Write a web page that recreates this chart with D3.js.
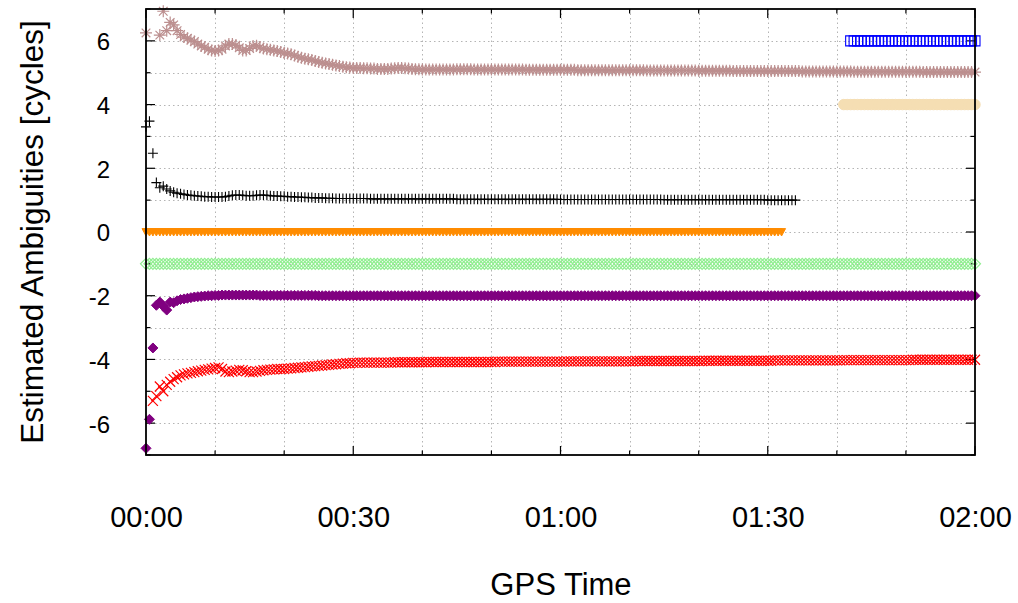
<!DOCTYPE html>
<html>
<head>
<meta charset="utf-8">
<script src="https://cdn.jsdelivr.net/npm/d3@7"></script>
<style>
  html, body { margin: 0; padding: 0; background: #fff; }
  text { font-family: "Liberation Sans", Arial, Helvetica, sans-serif; fill: #000; }
</style>
</head>
<body>
<svg id="chart" width="1018" height="603"></svg>
<script>
// Float ambiguity estimates, one epoch every 30 s (time in minutes).
const epochStep = 0.5;

const xTickMinutes = [0, 30, 60, 90, 120];
const xTickLabels = ["00:00", "00:30", "01:00", "01:30", "02:00"];
const yTickValues = [-6, -4, -2, 0, 2, 4, 6];

// Ambiguity 1 (starts 00:00)
const amb1Start = 0;
const amb1 = [
  6.25,null,null,null,6.18,6.93,6.32,6.58,6.5,6.32,6.2,6.12,6.08,6.02,5.98,5.9,5.84,5.8,5.74,5.7,
  5.68,5.7,5.74,5.84,5.9,5.9,5.86,5.78,5.7,5.7,5.76,5.84,5.85,5.8,5.76,5.74,5.72,5.7,5.68,5.65,
  5.62,5.6,5.58,5.54,5.5,5.47,5.44,5.42,5.4,5.37,5.34,5.31,5.29,5.27,5.25,5.23,5.21,5.19,5.17,5.16,
  5.15,5.15,5.15,5.14,5.14,5.13,5.13,5.12,5.12,5.12,5.12,5.13,5.14,5.15,5.15,5.14,5.13,5.12,5.11,5.11,
  5.1,5.1,5.1,5.1,5.1,5.1,5.1,5.1,5.1,5.1,5.11,5.11,5.11,5.11,5.11,5.1,5.1,5.1,5.1,5.1,
  5.1,5.1,5.1,5.1,5.1,5.1,5.1,5.1,5.1,5.1,5.09,5.09,5.09,5.09,5.09,5.09,5.09,5.09,5.09,5.09,
  5.09,5.09,5.09,5.09,5.09,5.08,5.08,5.08,5.08,5.08,5.08,5.08,5.08,5.08,5.08,5.08,5.08,5.08,5.08,5.08,
  5.08,5.08,5.08,5.08,5.08,5.07,5.07,5.07,5.07,5.07,5.07,5.07,5.07,5.07,5.07,5.07,5.07,5.07,5.07,5.07,
  5.06,5.06,5.06,5.06,5.06,5.06,5.06,5.06,5.06,5.06,5.05,5.05,5.05,5.05,5.05,5.05,5.05,5.05,5.05,5.05,
  5.05,5.05,5.05,5.05,5.05,5.05,5.05,5.05,5.05,5.05,5.04,5.04,5.04,5.04,5.04,5.04,5.04,5.04,5.04,5.04,
  5.04,5.04,5.04,5.04,5.04,5.03,5.03,5.03,5.03,5.03,5.03,5.03,5.03,5.03,5.03,5.03,5.03,5.03,5.03,5.03,
  5.03,5.03,5.03,5.03,5.03,5.02,5.02,5.02,5.02,5.02,5.02,5.02,5.02,5.02,5.02,5.02,5.02,5.02,5.02,5.02,
  5.02
];

// Ambiguity 2 (00:00 to 01:34)
const amb2Start = 0;
const amb2 = [
  3.3,3.48,2.47,1.55,1.39,1.44,1.35,1.29,1.25,1.22,1.2,1.18,1.16,1.15,1.14,1.13,1.12,1.11,1.11,1.1,
  1.1,1.1,1.1,1.11,1.13,1.15,1.16,1.16,1.15,1.14,1.14,1.14,1.15,1.16,1.16,1.15,1.14,1.13,1.13,1.12,
  1.12,1.11,1.11,1.1,1.1,1.09,1.09,1.08,1.08,1.07,1.07,1.07,1.06,1.06,1.06,1.05,1.05,1.05,1.05,1.05,
  1.05,1.05,1.05,1.05,1.05,1.04,1.04,1.04,1.04,1.04,1.04,1.04,1.04,1.04,1.04,1.04,1.04,1.04,1.04,1.04,
  1.04,1.04,1.04,1.04,1.04,1.04,1.04,1.04,1.04,1.04,1.03,1.03,1.03,1.03,1.03,1.03,1.03,1.03,1.03,1.03,
  1.03,1.03,1.03,1.03,1.03,1.03,1.03,1.03,1.03,1.03,1.03,1.03,1.03,1.03,1.03,1.03,1.03,1.03,1.03,1.03,
  1.02,1.02,1.02,1.02,1.02,1.02,1.02,1.02,1.02,1.02,1.02,1.02,1.02,1.02,1.02,1.02,1.02,1.02,1.02,1.02,
  1.02,1.02,1.02,1.02,1.02,1.02,1.02,1.02,1.02,1.02,1.01,1.01,1.01,1.01,1.01,1.01,1.01,1.01,1.01,1.01,
  1.01,1.01,1.01,1.01,1.01,1.01,1.01,1.01,1.01,1.01,1.01,1.01,1.01,1.01,1.01,1.01,1.01,1.01,1.01,1.01,
  1,1,1,1,1,1,1,1,1
];

// Ambiguity 3 (00:00 to 01:32)
const amb3Start = 0;
const amb3 = [
  0,0,0,0,0,0,0,0,0,0,0,0,0,0,0,0,0,0,0,0,
  0,0,0,0,0,0,0,0,0,0,0,0,0,0,0,0,0,0,0,0,
  0,0,0,0,0,0,0,0,0,0,0,0,0,0,0,0,0,0,0,0,
  0,0,0,0,0,0,0,0,0,0,0,0,0,0,0,0,0,0,0,0,
  0,0,0,0,0,0,0,0,0,0,0,0,0,0,0,0,0,0,0,0,
  0,0,0,0,0,0,0,0,0,0,0,0,0,0,0,0,0,0,0,0,
  0,0,0,0,0,0,0,0,0,0,0,0,0,0,0,0,0,0,0,0,
  0,0,0,0,0,0,0,0,0,0,0,0,0,0,0,0,0,0,0,0,
  0,0,0,0,0,0,0,0,0,0,0,0,0,0,0,0,0,0,0,0,
  0,0,0,0,0
];

// Ambiguity 4 (whole session)
const amb4Start = 0;
const amb4 = [
  -1,-1,-1,-1,-1,-1,-1,-1,-1,-1,-1,-1,-1,-1,-1,-1,-1,-1,-1,-1,
  -1,-1,-1,-1,-1,-1,-1,-1,-1,-1,-1,-1,-1,-1,-1,-1,-1,-1,-1,-1,
  -1,-1,-1,-1,-1,-1,-1,-1,-1,-1,-1,-1,-1,-1,-1,-1,-1,-1,-1,-1,
  -1,-1,-1,-1,-1,-1,-1,-1,-1,-1,-1,-1,-1,-1,-1,-1,-1,-1,-1,-1,
  -1,-1,-1,-1,-1,-1,-1,-1,-1,-1,-1,-1,-1,-1,-1,-1,-1,-1,-1,-1,
  -1,-1,-1,-1,-1,-1,-1,-1,-1,-1,-1,-1,-1,-1,-1,-1,-1,-1,-1,-1,
  -1,-1,-1,-1,-1,-1,-1,-1,-1,-1,-1,-1,-1,-1,-1,-1,-1,-1,-1,-1,
  -1,-1,-1,-1,-1,-1,-1,-1,-1,-1,-1,-1,-1,-1,-1,-1,-1,-1,-1,-1,
  -1,-1,-1,-1,-1,-1,-1,-1,-1,-1,-1,-1,-1,-1,-1,-1,-1,-1,-1,-1,
  -1,-1,-1,-1,-1,-1,-1,-1,-1,-1,-1,-1,-1,-1,-1,-1,-1,-1,-1,-1,
  -1,-1,-1,-1,-1,-1,-1,-1,-1,-1,-1,-1,-1,-1,-1,-1,-1,-1,-1,-1,
  -1,-1,-1,-1,-1,-1,-1,-1,-1,-1,-1,-1,-1,-1,-1,-1,-1,-1,-1,-1,
  -1
];

// Ambiguity 5 (whole session)
const amb5Start = 0;
const amb5 = [
  -6.79,-5.88,-3.64,-2.3,-2.2,-2.33,-2.45,-2.2,-2.22,-2.16,-2.12,-2.1,-2.08,-2.06,-2.04,-2.03,-2.02,-2.01,-2,-2,
  -1.99,-1.99,-1.98,-1.98,-1.98,-1.98,-1.98,-1.98,-1.98,-1.98,-1.98,-1.98,-1.98,-1.99,-1.99,-1.99,-1.99,-1.99,-1.99,-1.99,
  -1.99,-1.99,-1.99,-1.99,-1.99,-1.99,-1.99,-1.99,-1.99,-1.99,-2,-2,-2,-2,-2,-2,-2,-2,-2,-2,
  -2,-2,-2,-2,-2,-2,-2,-2,-2,-2,-2,-2,-2,-2,-2,-2,-2,-2,-2,-2,
  -2,-2,-2,-2,-2,-2,-2,-2,-2,-2,-2,-2,-2,-2,-2,-2,-2,-2,-2,-2,
  -2,-2,-2,-2,-2,-2,-2,-2,-2,-2,-2,-2,-2,-2,-2,-2,-2,-2,-2,-2,
  -2,-2,-2,-2,-2,-2,-2,-2,-2,-2,-2,-2,-2,-2,-2,-2,-2,-2,-2,-2,
  -2,-2,-2,-2,-2,-2,-2,-2,-2,-2,-2,-2,-2,-2,-2,-2,-2,-2,-2,-2,
  -2,-2,-2,-2,-2,-2,-2,-2,-2,-2,-2,-2,-2,-2,-2,-2,-2,-2,-2,-2,
  -2,-2,-2,-2,-2,-2,-2,-2,-2,-2,-2,-2,-2,-2,-2,-2,-2,-2,-2,-2,
  -2,-2,-2,-2,-2,-2,-2,-2,-2,-2,-2,-2,-2,-2,-2,-2,-2,-2,-2,-2,
  -2,-2,-2,-2,-2,-2,-2,-2,-2,-2,-2,-2,-2,-2,-2,-2,-2,-2,-2,-2,
  -2
];

// Ambiguity 6 (starts 00:01)
const amb6Start = 1;
const amb6 = [
  -5.3,-5.15,-4.85,-5.0,-4.8,-4.7,-4.62,-4.56,-4.5,-4.47,-4.44,-4.42,-4.4,-4.37,-4.35,-4.33,-4.31,-4.29,-4.27,-4.25,
  -4.3,-4.38,-4.4,-4.38,-4.35,-4.33,-4.34,-4.37,-4.4,-4.4,-4.38,-4.36,-4.34,-4.33,-4.32,-4.31,-4.3,-4.3,-4.3,-4.29,
  -4.28,-4.27,-4.26,-4.25,-4.24,-4.23,-4.22,-4.21,-4.2,-4.19,-4.18,-4.17,-4.16,-4.15,-4.14,-4.13,-4.12,-4.12,-4.11,-4.11,
  -4.1,-4.1,-4.1,-4.1,-4.1,-4.1,-4.1,-4.1,-4.1,-4.1,-4.09,-4.09,-4.09,-4.09,-4.09,-4.09,-4.09,-4.09,-4.09,-4.09,
  -4.08,-4.08,-4.08,-4.08,-4.08,-4.08,-4.08,-4.08,-4.08,-4.08,-4.08,-4.08,-4.08,-4.08,-4.08,-4.08,-4.08,-4.08,-4.08,-4.08,
  -4.07,-4.07,-4.07,-4.07,-4.07,-4.07,-4.07,-4.07,-4.07,-4.07,-4.07,-4.07,-4.07,-4.07,-4.07,-4.07,-4.07,-4.07,-4.07,-4.07,
  -4.06,-4.06,-4.06,-4.06,-4.06,-4.06,-4.06,-4.06,-4.06,-4.06,-4.06,-4.06,-4.06,-4.06,-4.06,-4.06,-4.06,-4.06,-4.06,-4.06,
  -4.05,-4.05,-4.05,-4.05,-4.05,-4.05,-4.05,-4.05,-4.05,-4.05,-4.05,-4.05,-4.05,-4.05,-4.05,-4.05,-4.05,-4.05,-4.05,-4.05,
  -4.04,-4.04,-4.04,-4.04,-4.04,-4.04,-4.04,-4.04,-4.04,-4.04,-4.04,-4.04,-4.04,-4.04,-4.04,-4.04,-4.04,-4.04,-4.04,-4.04,
  -4.03,-4.03,-4.03,-4.03,-4.03,-4.03,-4.03,-4.03,-4.03,-4.03,-4.03,-4.03,-4.03,-4.03,-4.03,-4.03,-4.03,-4.03,-4.03,-4.03,
  -4.02,-4.02,-4.02,-4.02,-4.02,-4.02,-4.02,-4.02,-4.02,-4.02,-4.02,-4.02,-4.02,-4.02,-4.02,-4.02,-4.02,-4.02,-4.02,-4.02,
  -4.01,-4.01,-4.01,-4.01,-4.01,-4.01,-4.01,-4.01,-4.01,-4.01,-4.01,-4.01,-4.01,-4.01,-4.01,-4.01,-4.01,-4.01,-4.01
];

// Ambiguity 7 (new satellite from 01:42)
const amb7Start = 102;
const amb7 = [
  6,6,6,6,6,6,6,6,6,6,6,6,6,6,6,6,6,6,6,6,
  6,6,6,6,6,6,6,6,6,6,6,6,6,6,6,6,6
];

// Ambiguity 8 (new satellite from 01:41)
const amb8Start = 101;
const amb8 = [
  4,4,4,4,4,4,4,4,4,4,4,4,4,4,4,4,4,4,4,4,
  4,4,4,4,4,4,4,4,4,4,4,4,4,4,4,4,4,4,4
];

// ---- marker shapes, centred on (0,0) ----
const sym = {
  plus:  h => `M${-h},0H${h}M0,${-h}V${h}`,
  cross: h => `M${-h},${-h}L${h},${h}M${-h},${h}L${h},${-h}`,
  star:  h => `M${-h},0H${h}M0,${-h}V${h}` +
              `M${-h*0.72},${-h*0.72}L${h*0.72},${h*0.72}M${-h*0.72},${h*0.72}L${h*0.72},${-h*0.72}`,
  square: h => `M${-h},${-h}H${h}V${h}H${-h}Z`,
  diamond: h => `M0,${-h}L${h},0L0,${h}L${-h},0Z`,
  triDown: h => `M${-h},${-h*0.85}H${h}L0,${h}Z`,
  circle: h => `M${-h},0A${h},${h} 0 1,0 ${h},0A${h},${h} 0 1,0 ${-h},0Z`
};

const series = [
  { start: amb1Start, values: amb1, shape: "star",    size: 6,   width: 1.2, stroke: "#bc8f8f", fill: "none" },
  { start: amb2Start, values: amb2, shape: "plus",    size: 5,   width: 1.1, stroke: "#000000", fill: "none" },
  { start: amb3Start, values: amb3, shape: "triDown", size: 4,   width: 1,   stroke: "#ff8c00", fill: "#ff8c00" },
  { start: amb4Start, values: amb4, shape: "diamond", size: 5.5, width: 1.2, stroke: "#90ee90", fill: "none" },
  { start: amb5Start, values: amb5, shape: "diamond", size: 5,   width: 1,   stroke: "#800080", fill: "#800080" },
  { start: amb6Start, values: amb6, shape: "cross",   size: 5,   width: 1.2, stroke: "#ff0000", fill: "none" },
  { start: amb7Start, values: amb7, shape: "square",  size: 5,   width: 1.1, stroke: "#0000ff", fill: "none" },
  { start: amb8Start, values: amb8, shape: "circle",  size: 5.2, width: 1,   stroke: "#f5deb3", fill: "#f5deb3" }
];

// ---- layout ----
const svg = d3.select("#chart");
const plot = { left: 146, right: 975, top: 9, bottom: 455 };

const x = d3.scaleLinear().domain([0, 120]).range([plot.left, plot.right]);
const y = d3.scaleLinear().domain([-7, 7]).range([plot.bottom, plot.top]);

const xMinor = x.ticks(12);            // every 10 minutes
const yMinor = y.ticks(14);            // every cycle

// grid
const grid = svg.append("g")
  .attr("stroke", "#b4b4b4")
  .attr("stroke-width", 1)
  .attr("stroke-dasharray", "1.5,3");
grid.selectAll(".gx").data(xMinor.filter(d => d > 0 && d < 120)).join("line")
  .attr("x1", d => Math.round(x(d)) + 0.5).attr("x2", d => Math.round(x(d)) + 0.5)
  .attr("y1", plot.top).attr("y2", plot.bottom);
grid.selectAll(".gy").data(yMinor.filter(d => d > -7 && d < 7)).join("line")
  .attr("y1", d => Math.round(y(d)) + 0.5).attr("y2", d => Math.round(y(d)) + 0.5)
  .attr("x1", plot.left).attr("x2", plot.right);

// inward ticks on all four sides (labelled ticks longer)
const ticks = svg.append("g").attr("stroke", "#000").attr("stroke-width", 1.2);
const majorLen = 9, minorLen = 4.5;
const isMajorX = d => xTickMinutes.includes(d);
const isMajorY = d => yTickValues.includes(d);
ticks.selectAll(".tb").data(xMinor).join("line")
  .attr("x1", d => x(d)).attr("x2", d => x(d))
  .attr("y1", plot.bottom).attr("y2", d => plot.bottom - (isMajorX(d) ? majorLen : minorLen));
ticks.selectAll(".tt").data(xMinor).join("line")
  .attr("x1", d => x(d)).attr("x2", d => x(d))
  .attr("y1", plot.top).attr("y2", d => plot.top + (isMajorX(d) ? majorLen : minorLen));
ticks.selectAll(".tl").data(yMinor).join("line")
  .attr("y1", d => y(d)).attr("y2", d => y(d))
  .attr("x1", plot.left).attr("x2", d => plot.left + (isMajorY(d) ? majorLen : minorLen));
ticks.selectAll(".tr").data(yMinor).join("line")
  .attr("y1", d => y(d)).attr("y2", d => y(d))
  .attr("x1", plot.right).attr("x2", d => plot.right - (isMajorY(d) ? majorLen : minorLen));

// data markers
series.forEach(s => {
  const pts = s.values
    .map((v, i) => ({ t: s.start + i * epochStep, v }))
    .filter(p => p.v !== null);
  svg.append("g")
    .attr("stroke", s.stroke)
    .attr("fill", s.fill)
    .attr("stroke-width", s.width)
    .selectAll("path").data(pts).join("path")
    .attr("transform", p => `translate(${x(p.t)},${y(p.v)})`)
    .attr("d", sym[s.shape](s.size));
});

// frame
svg.append("rect")
  .attr("x", plot.left).attr("y", plot.top)
  .attr("width", plot.right - plot.left).attr("height", plot.bottom - plot.top)
  .attr("fill", "none").attr("stroke", "#000").attr("stroke-width", 1.8);

// axis labels via d3 axes (tick marks drawn above)
const xAxis = d3.axisBottom(x)
  .tickValues(xTickMinutes)
  .tickFormat((d, i) => xTickLabels[i])
  .tickSize(0).tickPadding(0);
const gx = svg.append("g").attr("transform", `translate(0,${plot.bottom})`).call(xAxis);
gx.select(".domain").remove();
gx.selectAll("text")
  .attr("y", 72).attr("dy", null)
  .style("font-size", "29px")
  .attr("fill", "#000");

const yAxis = d3.axisLeft(y)
  .tickValues(yTickValues)
  .tickFormat(d => String(d))
  .tickSize(0).tickPadding(0);
const gy = svg.append("g").attr("transform", `translate(110,0)`).call(yAxis);
gy.select(".domain").remove();
gy.selectAll("text")
  .attr("x", 0).attr("dy", "0.37em")
  .style("font-size", "24px")
  .attr("fill", "#000");

// axis titles
svg.append("text")
  .attr("x", 561).attr("y", 595)
  .attr("text-anchor", "middle")
  .style("font-size", "31px")
  .text("GPS Time");

svg.append("text")
  .attr("transform", "translate(43,232) rotate(-90)")
  .attr("text-anchor", "middle")
  .style("font-size", "31.5px")
  .text("Estimated Ambiguities [cycles]");
</script>
</body>
</html>
